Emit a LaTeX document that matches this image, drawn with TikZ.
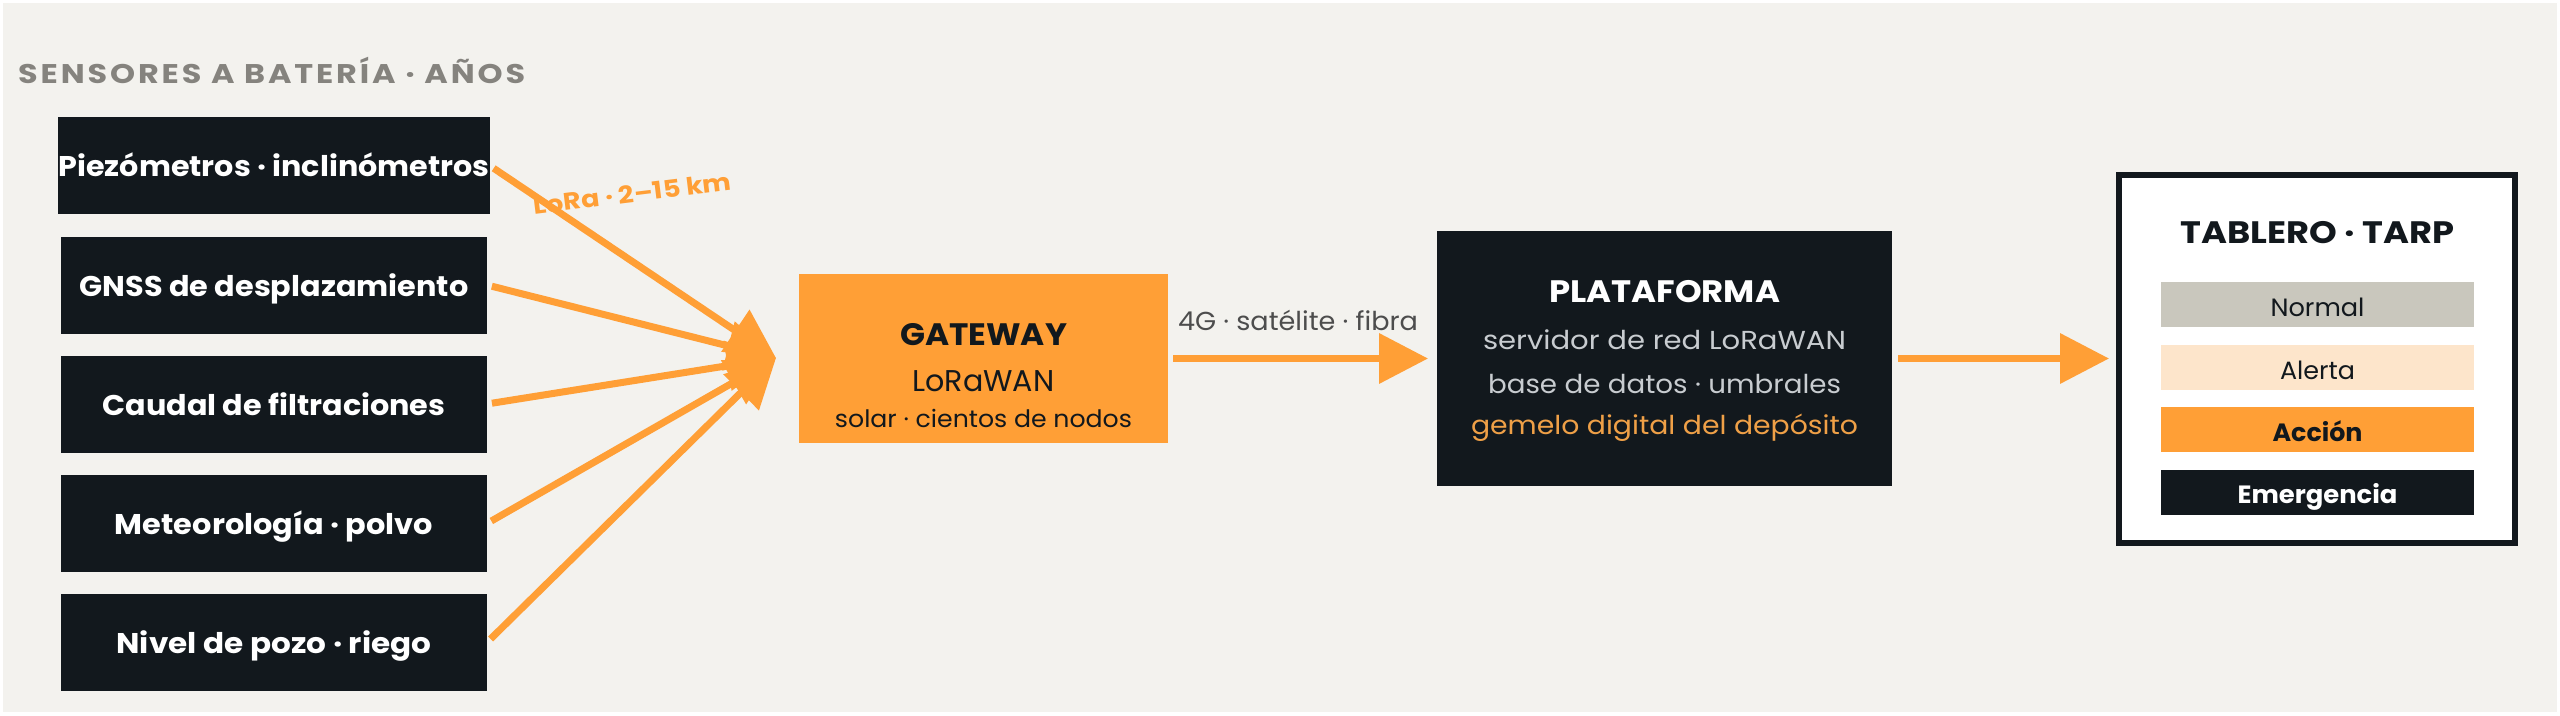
\documentclass[tikz,border=0pt]{standalone}
\usepackage{fontspec}
\usepackage{graphicx}
\setmainfont{Poppins}
\usetikzlibrary{arrows.meta}
\definecolor{bg}{HTML}{F3F2EE}
\definecolor{ink}{HTML}{12181D}
\definecolor{org}{HTML}{FF9F36}
\definecolor{ttl}{HTML}{85837E}
\definecolor{lbl}{HTML}{4D4D4D}
\definecolor{pfg}{HTML}{C8CCD0}
\definecolor{gem}{HTML}{EFA047}
\definecolor{nrm}{HTML}{C9C7BD}
\definecolor{alr}{HTML}{FDE5CB}
\newcommand{\fsz}[1]{\fontsize{#1pt}{#1pt}\selectfont}
\newcommand{\fitw}[2]{\resizebox{#1pt}{\height}{#2}}
\begin{document}
\begin{tikzpicture}[x=1pt,y=-1pt,
  sensor/.style={fill=ink, minimum width=426pt, minimum height=97pt, inner sep=0pt, outer sep=0pt,
    text=white, font=\bfseries\fsz{28.5}, text height=22pt, text depth=0pt},
  arr/.style={draw=org, line width=7pt, -{Triangle[length=49pt,width=49pt,fill=org]}},
  txt/.style={anchor=base, inner sep=0pt, outer sep=0pt},
  bar/.style={minimum width=313pt, minimum height=45pt, inner sep=0pt, outer sep=0pt,
    text=ink, font=\fsz{25}, text height=23pt, text depth=0pt},
]
\useasboundingbox (0,0) rectangle (2560,715);
\fill[white] (0,0) rectangle (2560,715);
\fill[bg] (3,3) rectangle (2557,712);

\node[anchor=base west, inner sep=0pt, text=ttl, font=\bfseries\fsz{27}\addfontfeatures{LetterSpace=9}] (title) at (18,83) {\fitw{507}{SENSORES A BATERÍA · AÑOS}};

\node[sensor] (s1) at (274,165.5) {\fitw{431}{Piezómetros · inclinómetros}};
\node[sensor] (s2) at (274,285) {\fitw{389}{GNSS de desplazamiento}};
\node[sensor] (s3) at (274,404) {\fitw{343}{Caudal de filtraciones}};
\node[sensor] (s4) at (274,523.5) {\fitw{318}{Meteorología · polvo}};
\node[sensor] (s5) at (274,642.5) {\fitw{315}{Nivel de pozo · riego}};

\node[txt, text=org, font=\bfseries\fsz{24}, rotate=7] (lora) at (633.5,202.5) {\fitw{199}{LoRa · 2–15 km}};

\coordinate (gin) at (776,358);
\foreach \s in {s1,s2,s3,s4,s5} \draw[arr, shorten <=5pt] (\s.east) -- (gin);

\node[fill=org, minimum width=369pt, minimum height=169pt, inner sep=0pt, outer sep=0pt] (gw) at (983.5,358.5) {};
\node[txt, text=ink, font=\bfseries\fsz{31}] (gw1) at (983.5,345) {\fitw{167}{GATEWAY}};
\node[txt, text=ink, font=\fsz{30}] (gw2) at (983.5,391) {\fitw{142}{LoRaWAN}};
\node[txt, text=ink, font=\fsz{24}] (gw3) at (983.5,427) {\fitw{297}{solar · cientos de nodos}};

\node[fill=ink, minimum width=455pt, minimum height=255pt, inner sep=0pt, outer sep=0pt] (pf) at (1664.5,358.5) {};
\node[txt, text=white, font=\bfseries\fsz{31}] (pf1) at (1664.5,302) {\fitw{231}{PLATAFORMA}};
\node[txt, text=pfg, font=\fsz{26}] (pf2) at (1664.5,349) {\fitw{363}{servidor de red LoRaWAN}};
\node[txt, text=pfg, font=\fsz{26}] (pf3) at (1664.5,393) {\fitw{353}{base de datos · umbrales}};
\node[txt, text=gem, font=\fsz{26}] (pf4) at (1664.5,434) {\fitw{387}{gemelo digital del depósito}};

\draw[arr, shorten <=5pt, shorten >=9pt] (gw.east) -- (pf.west);
\node[txt, text=lbl, font=\fsz{26}] (net) at (1298,330) {\fitw{240}{4G · satélite · fibra}};

\node[draw=ink, line width=6pt, fill=white, minimum width=396pt, minimum height=368pt, inner sep=0pt, outer sep=0pt] (tarp) at (2317,358.5) {};
\draw[arr, shorten <=6pt, shorten >=10pt] (pf.east) -- (tarp.west);
\node[txt, text=ink, font=\bfseries\fsz{31}] (tt) at (2317.5,243) {\fitw{274}{TABLERO · TARP}};
\node[bar, fill=nrm] (b1) at (2317.5,304.5) {\fitw{94}{Normal}};
\node[bar, fill=alr] (b2) at (2317.5,367.5) {\fitw{75}{Alerta}};
\node[bar, fill=org, font=\bfseries\fsz{25}] (b3) at (2317.5,429.5) {\fitw{90}{Acción}};
\node[bar, fill=ink, text=white, font=\bfseries\fsz{25}] (b4) at (2317.5,492) {\fitw{160}{Emergencia}};
\end{tikzpicture}
\end{document}
